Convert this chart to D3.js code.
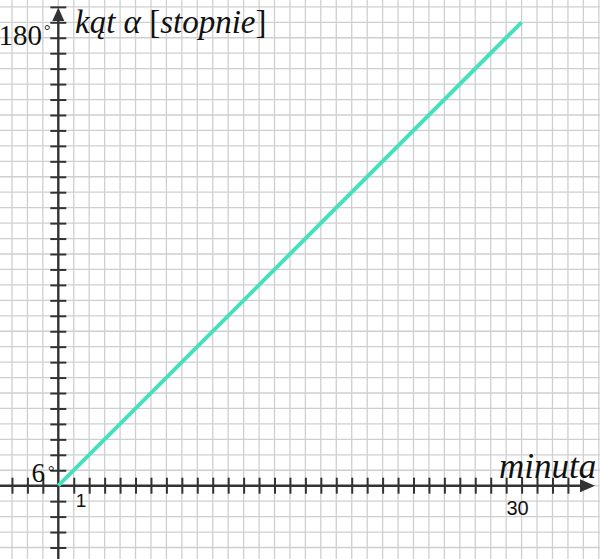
<!DOCTYPE html>
<html>
<head>
<meta charset="utf-8">
<script src="https://cdn.jsdelivr.net/npm/d3@7"></script>
<style>
  body { margin: 0; background: #fff; }
  .grid line { stroke: #cfcfcf; stroke-width: 1.3; }
  .ticks line { stroke: #333; stroke-width: 2; }
  .serif { font-family: "Liberation Serif", "DejaVu Serif", serif; fill: #111; }
  .sans { font-family: "Liberation Sans", Arial, sans-serif; fill: #111; }
</style>
</head>
<body>
<div id="chart"></div>
<script>
// line data: minutes vs. angle in degrees
const minutes = [0, 30];
const angles = [0, 180];

// labelled ticks
const xTickLabels = [1, 30];
const yTickLabels = [6, 180];

const width = 600;
const height = 559;
const degPerUnit = 6;

let x = d3.scaleLinear().domain([0, 30]).range([58.3, 521.6]);
let y = d3.scaleLinear().domain([0, 180]).range([485.7, 22.3]);

let svg = d3.select('#chart').append('svg')
  .attr('width', width)
  .attr('height', height);

// squared paper grid, one cell per unit
let grid = svg.append('g').classed('grid', true);
grid.selectAll('line.v').data(d3.range(-4, 36)).enter().append('line')
  .classed('v', true)
  .attr('x1', d => x(d)).attr('x2', d => x(d))
  .attr('y1', 0).attr('y2', height);
grid.selectAll('line.h').data(d3.range(-5, 32)).enter().append('line')
  .classed('h', true)
  .attr('y1', d => y(d * degPerUnit)).attr('y2', d => y(d * degPerUnit))
  .attr('x1', 0).attr('x2', width);

// axes
let x0 = x(0), y0 = y(0);

let xAxis = svg.append('g')
  .classed('ticks', true)
  .attr('transform', `translate(0, ${y0})`)
  .call(d3.axisBottom(x).tickValues(d3.range(-3, 34).filter(d => d !== 0)).tickFormat('').tickSizeOuter(0));
xAxis.select('.domain').remove();
xAxis.selectAll('.tick line').attr('y1', -8).attr('y2', 8);

let yAxis = svg.append('g')
  .classed('ticks', true)
  .attr('transform', `translate(${x0}, 0)`)
  .call(d3.axisLeft(y).tickValues(d3.range(-4, 32).filter(d => d !== 0).map(d => d * degPerUnit)).tickFormat('').tickSizeOuter(0));
yAxis.select('.domain').remove();
yAxis.selectAll('.tick line').attr('x1', -8).attr('x2', 8);

svg.append('line')
  .attr('x1', 0).attr('x2', 584)
  .attr('y1', y0).attr('y2', y0)
  .attr('stroke', '#333').attr('stroke-width', 2.4);
svg.append('line')
  .attr('x1', x0).attr('x2', x0)
  .attr('y1', height).attr('y2', 14)
  .attr('stroke', '#333').attr('stroke-width', 2.4);

// arrow heads
svg.append('path')
  .attr('d', `M${x0},7.5 L${x0 - 6},21 L${x0 + 6},21 Z`)
  .attr('fill', '#333');
svg.append('path')
  .attr('d', `M595,${y0} L580,${y0 - 6.5} L580,${y0 + 6.5} Z`)
  .attr('fill', '#333');

// the line itself
let line = d3.line()
  .x(d => x(d[0]))
  .y(d => y(d[1]));

svg.append('path')
  .datum(d3.zip(minutes, angles))
  .attr('d', line)
  .attr('fill', 'none')
  .attr('stroke', '#47e0bd')
  .attr('stroke-width', 4);

// tick labels
svg.append('text').classed('sans', true)
  .attr('x', x(xTickLabels[0]) + 2).attr('y', 507)
  .style('font-size', '19px')
  .text(xTickLabels[0]);
svg.append('text').classed('sans', true)
  .attr('x', x(xTickLabels[1]) - 4).attr('y', 515)
  .attr('text-anchor', 'middle')
  .style('font-size', '20px')
  .text(xTickLabels[1]);

svg.append('text').classed('serif', true)
  .attr('x', 45).attr('y', y(yTickLabels[0]) + 12)
  .attr('text-anchor', 'end')
  .style('font-size', '27px')
  .text(yTickLabels[0]);
svg.append('text').classed('serif', true)
  .attr('x', 48).attr('y', y(yTickLabels[0]) + 7)
  .style('font-size', '16px')
  .text('°');

svg.append('text').classed('serif', true)
  .attr('x', 42).attr('y', y(yTickLabels[1]) + 23)
  .attr('text-anchor', 'end')
  .style('font-size', '29px')
  .text(yTickLabels[1]);
svg.append('text').classed('serif', true)
  .attr('x', 44).attr('y', y(yTickLabels[1]) + 14)
  .style('font-size', '16px')
  .text('°');

// axis titles
let yTitle = svg.append('text').classed('serif', true)
  .attr('x', 75).attr('y', 33)
  .style('font-size', '33px');
yTitle.append('tspan').style('font-style', 'italic').text('kąt α ');
yTitle.append('tspan').text('[');
yTitle.append('tspan').style('font-style', 'italic').text('stopnie');
yTitle.append('tspan').text(']');

svg.append('text').classed('serif', true)
  .attr('x', 499).attr('y', 478)
  .style('font-size', '35px')
  .style('font-style', 'italic')
  .text('minuta');
</script>
</body>
</html>
